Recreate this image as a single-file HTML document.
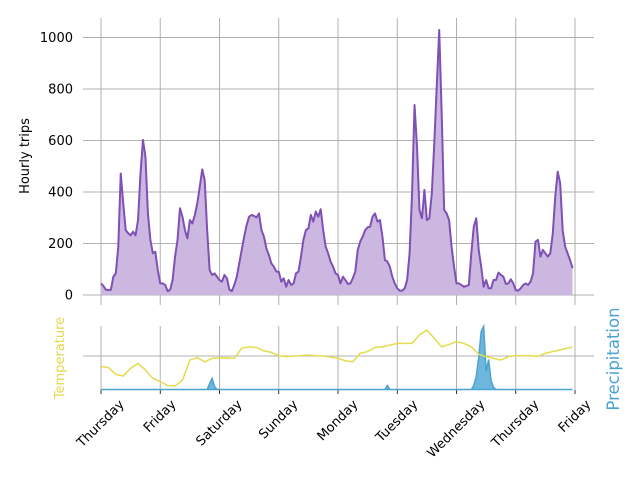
<!DOCTYPE html>
<html><head><meta charset="utf-8"><style>
body{margin:0;background:#fff;}
svg{display:block;font-family:"DejaVu Sans","Liberation Sans",sans-serif;}
</style></head><body>
<svg id="chart" width="640" height="480" viewBox="0 0 640 480">
<g id="grid"></g>
<g id="marks"></g>
<g id="labels"></g>
<text x="0" y="0" transform="translate(29,156) rotate(-90)" text-anchor="middle" font-size="13" fill="#000">Hourly trips</text>
<text x="0" y="0" transform="translate(64,358) rotate(-90)" text-anchor="middle" font-size="13" fill="#e3d84a">Temperature</text>
<text x="0" y="0" transform="translate(619,359) rotate(-90)" text-anchor="middle" font-size="16.5" fill="#4aa3d0">Precipitation</text>
</svg>
<script>
const dayLabels = ["Thursday","Friday","Saturday","Sunday","Monday","Tuesday","Wednesday","Thursday","Friday"];
const tripTicks = [0,200,400,600,800,1000];
const trips = [
45,35,20,20,20,71,84,188,472,356,252,240,232,246,232,291,472,602,537,317,214,162,168,97,
45,45,39,15,20,58,149,214,337,304,252,220,291,278,310,356,420,488,446,252,97,78,84,71,
58,52,78,65,21,15,39,71,123,175,227,272,304,311,307,301,317,252,227,181,155,123,110,91,
91,52,65,32,58,39,45,84,91,149,214,252,259,311,285,324,304,333,252,188,162,130,110,84,
78,45,71,58,43,45,65,91,175,207,227,252,263,265,304,317,285,291,227,136,130,110,71,45,
26,17,17,26,58,162,395,738,576,330,298,408,291,298,395,589,809,1029,705,330,317,291,188,110,
45,45,39,32,35,39,162,265,298,175,110,32,58,26,26,58,58,87,78,71,43,45,61,45,
19,17,26,39,45,39,52,84,207,214,149,175,162,149,162,239,382,479,434,252,188,162,136,104
];
const tempHours = [];
for (let i = 0; i < 64; i++) tempHours.push(i * 3);
tempHours.push(191);
const temperature = [
6.9,6.6,4.6,4.1,6.4,7.8,5.9,3.4,
2.5,1.3,1.2,2.9,8.8,9.5,8.3,9.3,
9.5,9.5,9.3,12.3,12.7,12.5,11.5,11.1,
10.1,9.8,10,10.1,10.3,10.1,10,9.7,
9.3,8.6,8.3,10.8,11.3,12.5,12.7,13.2,
13.7,13.7,13.7,16.2,17.6,15.2,12.7,13.4,
14.2,13.7,12.7,10.5,9.8,9.3,8.8,9.8,
10.1,10.1,10.1,9.9,10.8,11.3,11.8,12.3,12.6
];
const precipHours = [0,43,44,45,46,47,114,115,116,117,150,151,152,153,154,155,156,157,158,159,160,191];
const precipitation = [0,0,0.6,1.1,0.3,0,0,0,0.4,0,0,0.4,1.3,3.2,5.8,6.3,1.8,3.0,0.9,0.2,0,0];

const NS = "http://www.w3.org/2000/svg";
const X0 = 101, X1 = 575, HOURS = 192;
const xs = h => X0 + (X1 - X0) * h / HOURS;
const yTrips = v => 295 - v * 0.2575;
const yTemp = t => 390 - t * 3.4;
const yPrec = p => 389.5 - p * 10;
function mk(tag, attrs, parent){const e=document.createElementNS(NS,tag);for(const k in attrs)e.setAttribute(k,attrs[k]);parent.appendChild(e);return e;}
const grid = document.getElementById('grid'), marks = document.getElementById('marks'), labels = document.getElementById('labels');

tripTicks.forEach(v=>{
  const l = mk('line',{x1:83,x2:594,y1:yTrips(v),y2:yTrips(v),stroke:'#b0b0b0','stroke-width':1},grid);
  
  
  const t = mk('text',{x:73,y:yTrips(v)+4.5,'text-anchor':'end','font-size':13,fill:'#000'},labels);
  t.textContent = v;
  
  
});
dayLabels.forEach((d,i)=>{
  const x = xs(i*24);
  const g1 = mk('line',{x1:x,x2:x,y1:18,y2:305,stroke:'#b0b0b0','stroke-width':1},grid);
  
  
  const g2 = mk('line',{x1:x,x2:x,y1:326,y2:390,stroke:'#b0b0b0','stroke-width':1},grid);
  
  
  const tk = mk('line',{x1:x,x2:x,y1:390,y2:394,stroke:'#000','stroke-width':0.8},grid);
  
  
});
const hg = mk('line',{x1:83,x2:594,y1:356,y2:356,stroke:'#b0b0b0','stroke-width':1},grid);



let pts = trips.map((v,i)=>xs(i).toFixed(2)+','+yTrips(v).toFixed(2));
const area = mk('path',{d:'M'+xs(0)+','+yTrips(0)+' L'+pts.join(' L')+' L'+xs(trips.length-1)+','+yTrips(0)+' Z',fill:'#cbb7df',stroke:'none'},marks);


const line = mk('polyline',{points:pts.join(' '),fill:'none',stroke:'#7f50b5','stroke-width':2,'stroke-linejoin':'round'},marks);



let pp = precipHours.map((h,i)=>xs(h).toFixed(2)+','+yPrec(precipitation[i]).toFixed(2));
const pa = mk('path',{d:'M'+xs(precipHours[0])+','+yPrec(0)+' L'+pp.join(' L')+' L'+xs(precipHours[precipHours.length-1])+','+yPrec(0)+' Z',fill:'#6db6dc',stroke:'#4aa3d0','stroke-width':1.5},marks);



const tp = tempHours.map((h,i)=>xs(h).toFixed(2)+','+yTemp(temperature[i]).toFixed(2));
const tl = mk('polyline',{points:tp.join(' '),fill:'none',stroke:'#e5db4c','stroke-width':1.5,'stroke-linejoin':'round'},marks);



dayLabels.forEach((d,i)=>{
  const x = xs(i*24);
  const t = mk('text',{'font-size':13,fill:'#000','text-anchor':'middle','dominant-baseline':'central'},labels);
  t.textContent = d;
  
  
  const w = t.getComputedTextLength();
  const bh = (w + 13) * 0.7071;
  t.setAttribute('transform','translate('+x+','+(398+bh/2)+') rotate(-45)');
});
</script>
</body></html>
